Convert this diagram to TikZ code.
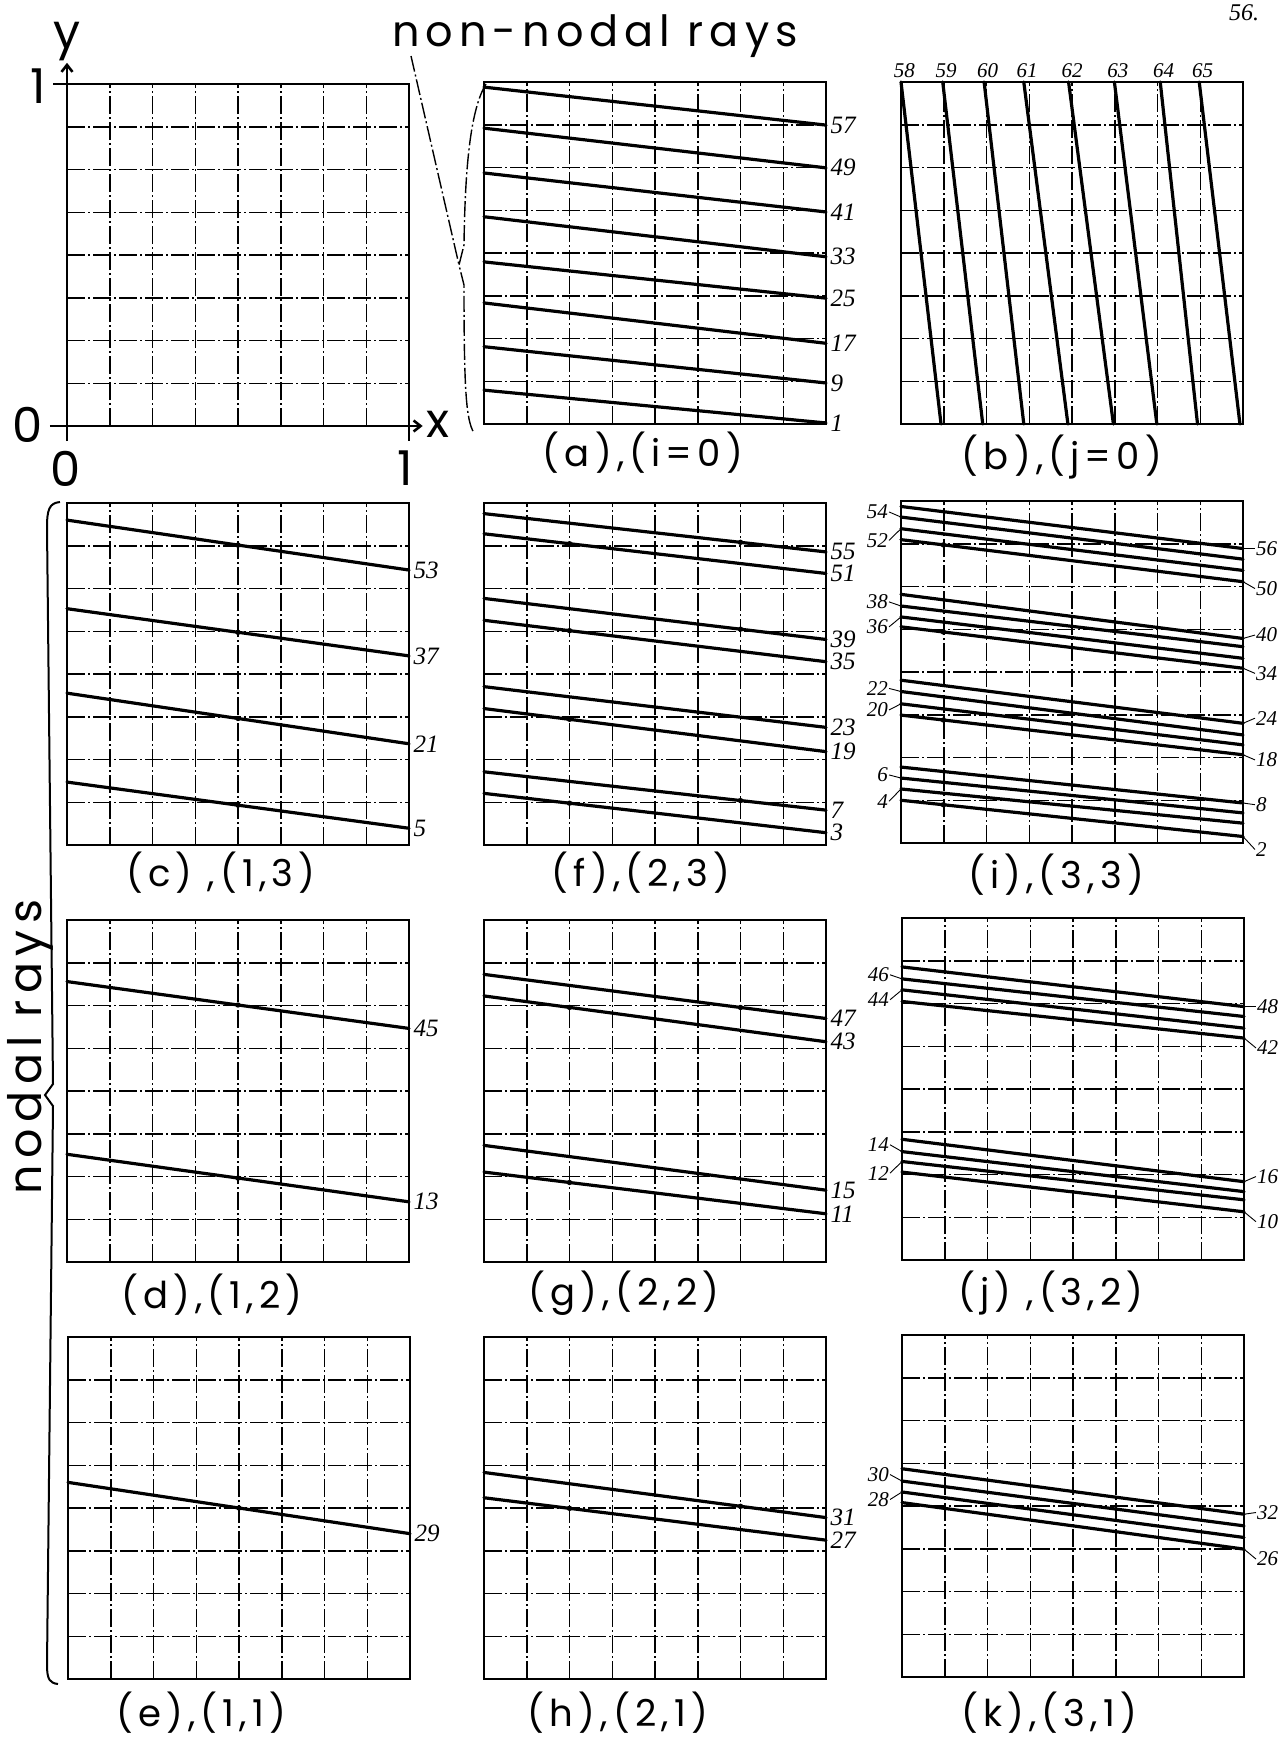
\documentclass[tikz,border=0pt]{standalone}
\usepackage{fontspec}
\setmainfont{Poppins}
\newfontfamily\capf{Poppins}[LetterSpace=14]
\newfontfamily\hand{Liberation Serif}
\usetikzlibrary{arrows.meta}
\newcommand\gridbox{%
  \foreach \k in {1,...,7}{\draw[gridln] (\k/8,0) -- (\k/8,1); \draw[gridln] (0,\k/8) -- (1,\k/8);}%
  \draw[frame] (0,0) rectangle (1,1);}
\newcommand\rayl[4]{\draw[ray] (0,#1) -- (1,#2) node[rlab] (#3) {#4};}
\newcommand\rays[2]{\draw[ray] (0,#1) -- (1,#2);}
\newcommand\rdot[3]{\fill ({#1},{#2+(#3-#2)*#1}) circle (2.7pt);}
\newcommand\llab[4]{\node[slab,anchor=east] (#1) at (-0.035,#2) {#3}; \draw[tk] (#1.east) -- (0,#4);}
\newcommand\rlabt[4]{\node[slab,anchor=west] (#1) at (1.035,#2) {#3}; \draw[tk] (1,#4) -- (#1.west);}
\begin{document}
\begin{tikzpicture}[x=1pt,y=-1pt,
  frame/.style={line width=2.6pt, line join=miter},
  gridln/.style={line width=1.5pt, dash pattern=on 18pt off 3pt on 2pt off 3pt},
  ray/.style={line width=3.2pt, line cap=round},
  rlab/.style={font=\hand\itshape\fontsize{25}{25}\selectfont, inner sep=1pt, anchor=west, xshift=2pt},
  slab/.style={font=\hand\itshape\fontsize{21}{21}\selectfont, inner sep=1pt},
  capt/.style={font=\capf\fontsize{37}{37}\selectfont, inner sep=0pt},
  big/.style={font=\capf\fontsize{48}{48}\selectfont, inner sep=0pt},
  pan/.style 2 args={shift={(#1,#2+342)}, x=342pt, y=342pt},
  tk/.style={line width=0.9pt},
  brace/.style={line width=1.4pt, dash pattern=on 16pt off 3pt on 2pt off 3pt}]
\useasboundingbox (0,0) rectangle (1286,1745);
\fill[white] (0,0) rectangle (1286,1745);

% ---------- top-left reference square ----------
\begin{scope}[pan={67}{84}]
  \gridbox
  \draw[frame,-{Straight Barb[length=7pt,width=11pt]}] (0,-0.044) -- (0,1.062);
  \draw[frame,-{Straight Barb[length=7pt,width=11pt]}] (-0.05,0) -- (1.04,0);
  \draw[frame] (-0.04,1) -- (0,1);
  \draw[frame] (1,0) -- (1,-0.044);
\end{scope}
\node[big] (ylab) at (67,42) {y};
\node[big] (yone) at (38,86) {1};
\node[big] (yzero) at (28,425) {0};
\node[big] (xzero) at (66,469) {0};
\node[big] (xone) at (405,468) {1};
\node[big] (xlab) at (438,424) {x};
\node[font=\hand\itshape\fontsize{24}{24}\selectfont] (pnum) at (1244,13) {56.};

% ---------- non-nodal rays ----------
\node[font=\capf\fontsize{43}{43}\selectfont, anchor=base, inner sep=0pt] (nonnodal) at (595,47) {non-nodal rays};
\coordinate (nnstart) at (411,56);
\coordinate (atip) at (459,265);
\draw[brace] (486,84) .. controls (470,110) and (465,170) .. (464,245) -- (atip) -- (464,285) .. controls (464,390) and (466,420) .. (474,433);
\draw[brace] (nnstart) -- (atip);

% (a)
\begin{scope}[pan={484}{82}]
  \gridbox
  \rayl{0.985}{0.874}{a57}{57}
  \rayl{0.865}{0.749}{a49}{49}
  \rayl{0.734}{0.620}{a41}{41}
  \rayl{0.606}{0.489}{a33}{33}
  \rayl{0.474}{0.368}{a25}{25}
  \rayl{0.354}{0.236}{a17}{17}
  \rayl{0.226}{0.120}{a9}{9}
  \rayl{0.099}{0.003}{a1}{1}
\end{scope}
\node[capt] (capa) at (643,453) {(a),(i=0)};

% (b)
\begin{scope}[pan={901}{82}]
  \gridbox
  \foreach \t/\b/\n in {0.0/0.117/58, 0.122/0.239/59, 0.243/0.359/60, 0.359/0.488/61, 0.49/0.621/62, 0.624/0.748/63, 0.758/0.867/64, 0.872/0.991/65}{
    \draw[ray] (\t,1) -- (\b,0);
    \node[slab,anchor=south,yshift=3pt] (b\n) at (\t+0.01,1) {\n};
  }
\end{scope}
\node[capt] (capb) at (1062,457) {(b),(j=0)};

% ---------- nodal rays ----------
\node[font=\capf\fontsize{46}{46}\selectfont, rotate=90, inner sep=0pt] (nodal) at (30,1047) {nodal rays};
\coordinate (ntip) at (45,1095);
\draw[line width=2pt] (60,502) .. controls (49,503) and (47,510) .. (47,528) -- (53,1084) -- (ntip) -- (53,1106) -- (47,1665) .. controls (47,1680) and (50,1683) .. (58,1684);

% (c)
\begin{scope}[pan={67}{503}]
  \gridbox
  \rayl{0.950}{0.804}{c53}{53}
  \rayl{0.691}{0.553}{c37}{37}
  \rayl{0.444}{0.296}{c21}{21}
  \rayl{0.184}{0.049}{c5}{5}
  \rdot{0.5}{0.950}{0.804}\rdot{0.5}{0.691}{0.553}\rdot{0.5}{0.444}{0.296}\rdot{0.5}{0.184}{0.049}
\end{scope}
\node[capt] (capc) at (221,873) {(c) ,(1,3)};

% (f)
\begin{scope}[pan={484}{503}]
  \gridbox
  \rayl{0.969}{0.857}{f55}{55}
  \rayl{0.910}{0.794}{f51}{51}
  \rayl{0.721}{0.601}{f39}{39}
  \rayl{0.657}{0.536}{f35}{35}
  \rayl{0.463}{0.344}{f23}{23}
  \rayl{0.399}{0.273}{f19}{19}
  \rayl{0.214}{0.102}{f7}{7}
  \rayl{0.151}{0.036}{f3}{3}
  \rdot{0.75}{0.969}{0.857}\rdot{0.25}{0.910}{0.794}
  \rdot{0.75}{0.721}{0.601}\rdot{0.25}{0.657}{0.536}
  \rdot{0.25}{0.399}{0.273}
  \rdot{0.75}{0.214}{0.102}\rdot{0.25}{0.151}{0.036}
\end{scope}
\node[capt] (capf) at (641,873) {(f),(2,3)};

% (i)
\begin{scope}[pan={901}{501}]
  \gridbox
  \rays{0.984}{0.861}\rays{0.953}{0.830}\rays{0.919}{0.797}\rays{0.887}{0.764}
  \rays{0.727}{0.598}\rays{0.693}{0.574}\rays{0.661}{0.540}\rays{0.632}{0.511}
  \rays{0.476}{0.350}\rays{0.443}{0.316}\rays{0.407}{0.287}\rays{0.374}{0.258}
  \rays{0.222}{0.117}\rays{0.190}{0.088}\rays{0.158}{0.058}\rays{0.125}{0.019}
  \rdot{0.124}{0.887}{0.764}\rdot{0.124}{0.632}{0.511}\rdot{0.124}{0.374}{0.258}\rdot{0.124}{0.125}{0.019}
  \llab{i54}{0.968}{54}{0.953}\llab{i52}{0.885}{52}{0.919}
  \llab{i38}{0.705}{38}{0.693}\llab{i36}{0.632}{36}{0.661}
  \llab{i22}{0.452}{22}{0.443}\llab{i20}{0.389}{20}{0.407}
  \llab{i6}{0.199}{6}{0.190}\llab{i4}{0.122}{4}{0.158}
  \rlabt{i56}{0.861}{56}{0.861}\rlabt{i50}{0.744}{50}{0.764}
  \rlabt{i40}{0.608}{40}{0.598}\rlabt{i34}{0.496}{34}{0.511}
  \rlabt{i24}{0.365}{24}{0.350}\rlabt{i18}{0.243}{18}{0.258}
  \rlabt{i8}{0.112}{8}{0.117}\rlabt{i2}{-0.019}{2}{0.019}
\end{scope}
\node[capt] (capi) at (1056,875) {(i),(3,3)};

% (d)
\begin{scope}[pan={67}{920}]
  \gridbox
  \rayl{0.820}{0.683}{d45}{45}
  \rayl{0.315}{0.176}{d13}{13}
  \rdot{0.5}{0.820}{0.683}\rdot{0.5}{0.315}{0.176}
\end{scope}
\node[capt] (capd) at (212,1295) {(d),(1,2)};

% (g)
\begin{scope}[pan={484}{920}]
  \gridbox
  \rayl{0.841}{0.712}{g47}{47}
  \rayl{0.778}{0.644}{g43}{43}
  \rayl{0.341}{0.210}{g15}{15}
  \rayl{0.263}{0.141}{g11}{11}
  \rdot{0.75}{0.841}{0.712}\rdot{0.25}{0.778}{0.644}\rdot{0.25}{0.263}{0.141}
\end{scope}
\node[capt] (capg) at (624,1293) {(g),(2,2)};

% (j)
\begin{scope}[pan={902}{918}]
  \gridbox
  \rays{0.857}{0.741}\rays{0.822}{0.712}\rays{0.790}{0.678}\rays{0.756}{0.649}
  \rays{0.353}{0.229}\rays{0.317}{0.200}\rays{0.288}{0.176}\rays{0.257}{0.141}
  \llab{j46}{0.834}{46}{0.822}\llab{j44}{0.761}{44}{0.790}
  \llab{j14}{0.337}{14}{0.317}\llab{j12}{0.254}{12}{0.288}
  \rlabt{j48}{0.741}{48}{0.741}\rlabt{j42}{0.620}{42}{0.649}
  \rlabt{j16}{0.244}{16}{0.229}\rlabt{j10}{0.112}{10}{0.141}
\end{scope}
\node[capt] (capj) at (1051,1293) {(j) ,(3,2)};

% (e)
\begin{scope}[pan={68}{1337}]
  \gridbox
  \rayl{0.575}{0.425}{e29}{29}
  \rdot{0.5}{0.575}{0.425}
\end{scope}
\node[capt] (cape) at (201,1713) {(e),(1,1)};

% (h)
\begin{scope}[pan={484}{1337}]
  \gridbox
  \rayl{0.604}{0.472}{h31}{31}
  \rayl{0.530}{0.406}{h27}{27}
  \rdot{0.75}{0.604}{0.472}\rdot{0.25}{0.530}{0.406}
\end{scope}
\node[capt] (caph) at (618,1713) {(h),(2,1)};

% (k)
\begin{scope}[pan={902}{1335}]
  \gridbox
  \rays{0.609}{0.476}\rays{0.573}{0.442}\rays{0.541}{0.408}\rays{0.510}{0.374}
  \llab{k30}{0.592}{30}{0.573}\llab{k28}{0.519}{28}{0.541}
  \rlabt{k32}{0.481}{32}{0.476}\rlabt{k26}{0.345}{26}{0.374}
\end{scope}
\node[capt] (capk) at (1049,1713) {(k),(3,1)};
\end{tikzpicture}
\end{document}
